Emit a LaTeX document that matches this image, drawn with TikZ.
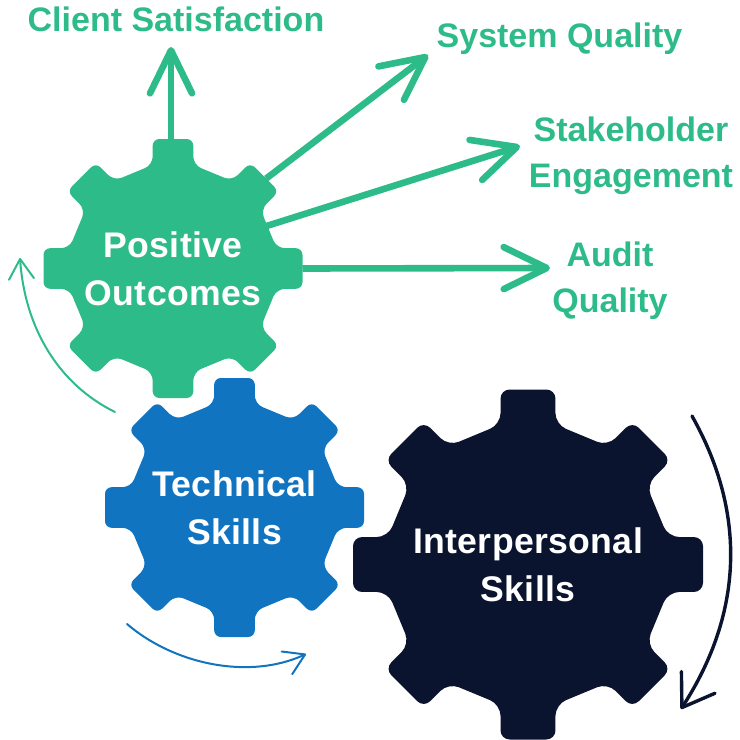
\documentclass[tikz,border=0pt]{standalone}
\usepackage{fontspec}
\setmainfont{Liberation Sans}
\newfontface\gearface{Liberation Sans Bold}[LetterSpace=1]
\usepackage{xcolor}
\usepackage{tikz}
\usetikzlibrary{
  arrows.meta,
  shapes.geometric
}
\definecolor{outcomecolor}{HTML}{2EBB8A}
\definecolor{techcolor}{HTML}{1174C1}
\definecolor{peoplecolor}{HTML}{0A142F}
% centre, radius, colour
\newcommand{\gearfill}[3]{%
  \pgfmathsetmacro{\gearhw}{0.157*#2}%
  \pgfmathsetmacro{\gearin}{0.8*#2}%
  \pgfmathsetmacro{\gearmid}{0.799*#2}%
  \pgfmathsetmacro{\gearout}{0.026*#2}%
  \pgfmathsetmacro{\gearroot}{0.032*#2}%
  \fill[#3, shift={(#1)}, rounded corners=\gearroot pt]
    ([rotate=-22.5]0,-\gearmid)
    \foreach \a in {0,45,...,315} {
      [rounded corners=\gearroot pt] -- ([rotate=\a]\gearhw,-\gearin)
      [rounded corners=\gearout pt] -- ([rotate=\a]\gearhw,-#2)
      -- ([rotate=\a]-\gearhw,-#2)
      [rounded corners=\gearroot pt] -- ([rotate=\a]-\gearhw,-\gearin)
    } -- cycle;
}

\begin{document}
\begin{tikzpicture}[
  x=0.5pt, y=-0.5pt,
  gearlbl/.style={
    circle, inner sep=0pt, outer sep=0pt, align=center, text=white,
    font=\gearface\fontsize{17.8}{24}\selectfont
  },
  outlbl/.style={
    align=center, inner sep=0pt, text=outcomecolor,
    font=\fontsize{17}{23}\selectfont\bfseries
  },
  bigarrow/.style={
    -{Straight Barb[length=21.5pt, width=21pt, round]},
    outcomecolor, line width=3.3pt
  },
  turnarrow/.style={
    -{Straight Barb[length=10pt, width=12.5pt, round]},
    line width=1pt, line cap=round
  },
  bigturn/.style={
    -{Straight Barb[length=15pt, width=20pt, round]},
    peoplecolor, line width=1.7pt, line cap=round
  }
]
  \useasboundingbox (0,0) rectangle (740,740);

  % ── Gears ──
  \gearfill{173,268.5}{129.5}{outcomecolor}
  \gearfill{234.5,507.5}{129.5}{techcolor}
  \gearfill{528,564.5}{175}{peoplecolor}

  \node[gearlbl, minimum size=129.5pt] (outcomes) at (173,268.5) {Positive\\Outcomes};
  \node[gearlbl, minimum size=129.5pt] (technical) at (234.5,507.5) {Technical\\Skills};
  \node[gearlbl, minimum size=175pt] (interpersonal) at (528,564.5) {Interpersonal\\Skills};

  % ── Outcome labels ──
  \node[outlbl] (client) at (176,19) {Client Satisfaction};
  \node[outlbl] (system) at (559.5,39) {System Quality};
  \node[outlbl] (stakeholder) at (631,156) {Stakeholder\\Engagement};
  \node[outlbl] (audit) at (610,280.5) {Audit\\Quality};

  % ── Arrow tips and free ends ──
  \coordinate (clienttip) at (171,47);
  \coordinate (systemtip) at (428,55);
  \coordinate (stakeholdertip) at (520,146);
  \coordinate (audittip) at (550,268);

  \coordinate (outcomesfrom) at (115,412);
  \coordinate (outcomesto) at (20,258);
  \coordinate (technicalfrom) at (127,624);
  \coordinate (technicalto) at (306,654);
  \coordinate (peoplefrom) at (692,416);
  \coordinate (peopleto) at (681,709);

  % ── Outcome arrows ──
  \draw[bigarrow] (outcomes.north) ++(-2,0) -- (clienttip);
  \draw[bigarrow] (outcomes.44) -- (systemtip);
  \draw[bigarrow, shorten <=-16pt] (outcomes.23) -- (stakeholdertip);
  \draw[bigarrow] (outcomes.east) -- (audittip);

  % ── Turning arrows ──
  \draw[turnarrow, outcomecolor] (outcomesfrom) .. controls (60,385) and (25,330) .. (outcomesto);
  \draw[turnarrow, techcolor] (technicalfrom) .. controls (175,665) and (250,680) .. (technicalto);
  \draw[bigturn] (peoplefrom) .. controls (745,510) and (745,610) .. (peopleto);

\end{tikzpicture}
\end{document}
